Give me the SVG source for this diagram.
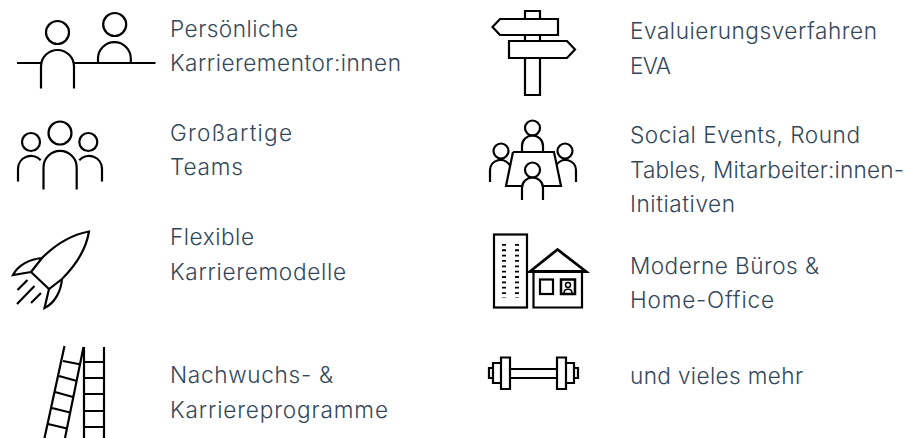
<svg xmlns="http://www.w3.org/2000/svg" width="907" height="438" viewBox="0 0 907 438">
<style>
.i{fill:none;stroke:#000;stroke-width:2.200}
.t{font-family:"Inter","Lato",sans-serif;font-size:22.600px;font-weight:300;fill:#33475b}
</style>
<rect width="907" height="438" fill="#fff"/>
<g id="n1"><g class="i"><circle cx="57.500" cy="32.500" r="11.500"/><circle cx="114.700" cy="24.500" r="11.500"/><path d="M17 63H41M74 63H155.500M41 88.500V66.500A16.500 16.500 0 0 1 74 66.500V88.500M98 63V58.500A16.400 16.400 0 0 1 130.800 58.500V63"/></g>
<text class="t" x="170" y="37" textLength="128">Persönliche</text><text class="t" x="170" y="71" textLength="231">Karrierementor:innen</text></g>
<g id="n2"><g class="i"><circle cx="60" cy="133" r="11.500"/><circle cx="31" cy="142" r="9"/><circle cx="88.300" cy="142" r="9"/><path d="M43.500 189.500V167.500A16.600 16.600 0 0 1 76.700 167.500V189.500M18 181.500V169A13 13 0 0 1 40.700 160.300M102 181.500V169A13 13 0 0 0 79.300 160.300"/></g>
<text class="t" x="170" y="141" textLength="122">Großartige</text><text class="t" x="170" y="175" textLength="73">Teams</text></g>
<g id="n3"><g class="i"><path d="M89 231.500C70 235 55 245 42 258L31 272L49 289L62 279C75 266 86 250 89 231.500ZM42 258C30 259 18 265 13 275L31 272M62 279C61 291 55 303 44.500 308L49 289M27.500 280L17.500 290M34.500 286L17 304M41 293L31 303"/></g>
<text class="t" x="170" y="245" textLength="84">Flexible</text><text class="t" x="170" y="280" textLength="176">Karrieremodelle</text></g>
<g id="n4"><g class="i"><path d="M64.500 346L44.500 438M83.500 347L65 438M63 361L81 364.500M59 376L77 381M55 392L73 397M52 408L70 412.500M48 424L67 428.500M84 347V438M104 347V438M84 362H104M84 378H104M84 394H104M84 411H104M84 427H104"/></g>
<text class="t" x="170" y="383" textLength="163">Nachwuchs- &amp;</text><text class="t" x="170" y="418" textLength="218">Karriereprogramme</text></g>
<g id="n5"><g class="i"><path d="M525 19V11H540V19M525 35V41M540 35V41M525 58V95H540V58M500 19H558V35H500L492.500 27Z M509 41H567L575 49.500L567 58H509Z"/></g>
<text class="t" x="630" y="39" textLength="247">Evaluierungsverfahren</text><text class="t" x="630" y="74" textLength="41">EVA</text></g>
<g id="n6"><g class="i"><circle cx="532.500" cy="128" r="7.500"/><circle cx="501" cy="151" r="7.500"/><circle cx="565" cy="151" r="7.500"/><circle cx="532.500" cy="170" r="7.500"/><path d="M522 152V146A10.500 10.500 0 0 1 543 146V152M513 152H554L561 186H543M522 186H506L513 152M490 182V170A10.500 10.500 0 0 1 509.500 165M576 182V170A10.500 10.500 0 0 0 556.500 165M522 200V188A10.500 10.500 0 0 1 543 188V200"/></g>
<text class="t" x="630" y="143" textLength="230">Social Events, Round</text><text class="t" x="630" y="178" textLength="274">Tables, Mitarbeiter:innen-</text><text class="t" x="630" y="212" textLength="105">Initiativen</text></g>
<g id="n7"><g class="i"><rect x="494" y="234.500" width="33" height="73"/><path d="M533.500 272V307.500H582V272"/><path d="M530 271.500H586L557.500 249.500Z" stroke-width="2.800"/><rect x="540" y="279.500" width="13" height="14.500"/><rect x="561" y="279.500" width="14" height="14.500" stroke-width="2.500"/><circle cx="568" cy="285" r="2.500" stroke-width="1.500"/><path d="M564 293C564 288 572 288 572 293" stroke-width="1.500"/><path d="M504 244V298M517 244V298" stroke-width="4" stroke-dasharray="1.800 3.550"/></g>
<text class="t" x="630" y="274" textLength="189">Moderne Büros &amp;</text><text class="t" x="630" y="308" textLength="144">Home-Office</text></g>
<g id="n8"><g class="i"><path d="M510 369H557M510 378H557M489 368H493V378H489ZM493 363H501V383H493ZM501 357.500H510V389H501ZM557 357.500H566V389H557ZM566 363H574V383H566ZM574 368H578V378H574Z"/></g>
<text class="t" x="630" y="384" textLength="173">und vieles mehr</text></g>
</svg>
